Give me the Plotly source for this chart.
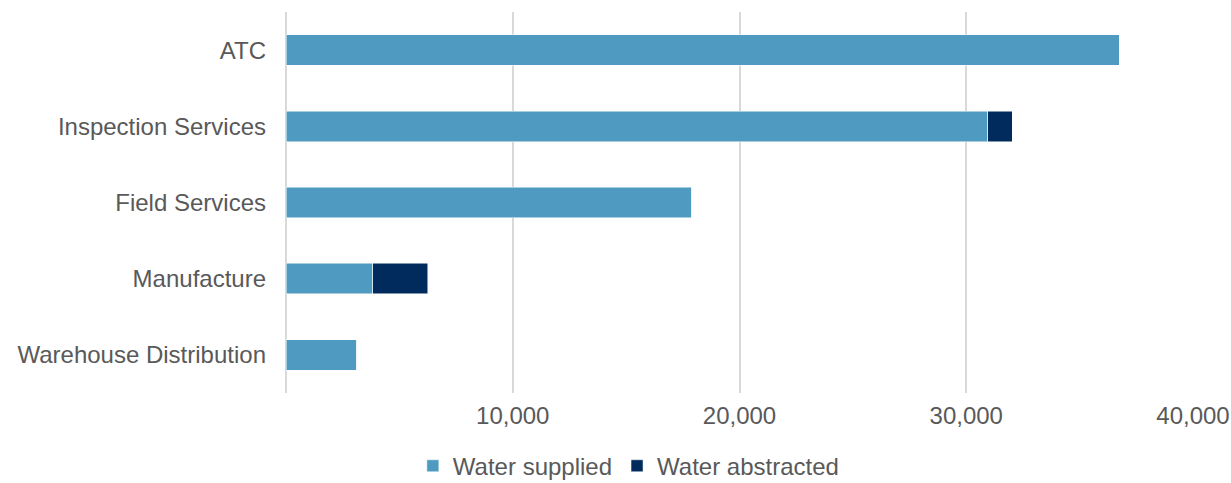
import plotly.graph_objects as go

categories = ["ATC", "Inspection Services", "Field Services", "Manufacture", "Warehouse Distribution"]
water_supplied = [36750, 30950, 17900, 3830, 3120]
water_abstracted = [0, 1080, 0, 2430, 0]
tick_values = [10000, 20000, 30000, 40000]
tick_labels = ["10,000", "20,000", "30,000", "40,000"]

font_family = "Liberation Sans, Arial, sans-serif"
text_color = "#595959"
fs = 24

fig = go.Figure()
fig.add_trace(go.Bar(
    y=categories, x=water_supplied, orientation="h", name="Water supplied",
    marker=dict(color="#4E9AC1", line=dict(color="#ffffff", width=0.5)),
))
fig.add_trace(go.Bar(
    y=categories, x=water_abstracted, orientation="h", name="Water abstracted",
    marker=dict(color="#002B5C", line=dict(color="#ffffff", width=0.5)),
))

fig.update_layout(
    width=1231, height=483,
    barmode="stack", bargap=0.6,
    plot_bgcolor="white", paper_bgcolor="white",
    margin=dict(l=286, r=38, t=12, b=90, autoexpand=False),
    font=dict(family=font_family, size=fs, color=text_color),
    showlegend=True,
    legend=dict(
        orientation="h", x=0.378, xanchor="center", y=-0.133, yanchor="top",
        font=dict(size=fs, color=text_color), traceorder="normal",
        itemwidth=30,
    ),
    xaxis=dict(
        range=[0, 40000], tickvals=tick_values, ticktext=tick_labels,
        showgrid=True, gridcolor="#D9D9D9", gridwidth=1.5,
        zeroline=True, zerolinecolor="#D9D9D9", zerolinewidth=1.5,
        showline=False, ticks="", ticklabelstandoff=6, automargin=False,
        tickfont=dict(size=fs, color=text_color),
    ),
    yaxis=dict(
        autorange="reversed", showgrid=False, zeroline=False, showline=False,
        ticks="", ticklabelstandoff=19, automargin=False,
        tickfont=dict(size=fs, color=text_color),
    ),
)

fig.write_html("out.html")
